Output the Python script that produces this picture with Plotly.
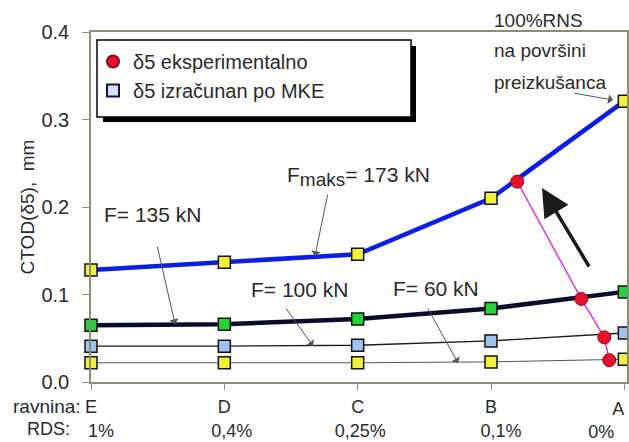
import plotly.graph_objects as go

# ---- data ----
planes = ["E", "D", "C", "B", "A"]
rds = ["1%", "0,4%", "0,25%", "0,1%", "0%"]
x_pos = [0, 1, 2, 3, 4]

ctod_fmaks = [0.128, 0.137, 0.146, 0.210, 0.321]   # Fmaks = 173 kN
ctod_f135 = [0.065, 0.066, 0.072, 0.084, 0.103]    # F = 135 kN
ctod_f100 = [0.041, 0.041, 0.042, 0.047, 0.056]    # F = 100 kN
ctod_f60 = [0.022, 0.022, 0.022, 0.023, 0.026]     # F = 60 kN

exp_x = [3.197, 3.677, 3.850, 3.887]
exp_y = [0.229, 0.095, 0.051, 0.025]

y_ticks = [0.0, 0.1, 0.2, 0.3, 0.4]
y_ticktext = ["0.0", "0.1", "0.2", "0.3", "0.4"]

NB = "\u00a0"
x_ticktext = [
    planes[0] + "<br>" + NB * 4 + rds[0],
    planes[1] + "<br>" + NB * 3 + rds[1],
    planes[2] + "<br>" + NB * 1 + rds[2],
    planes[3] + "<br>" + NB * 4 + rds[3],
    "",
]
# last plane label is right-aligned at the right edge (separate overlay axis)
x_ticktext_last = [planes[4] + "<br>" + rds[4] + NB * 2]

FONT = "Liberation Sans, Arial, sans-serif"
TXT = "#2a2a2a"

# plot-area geometry in pixels
L, R, T, B = 91, 2, 32, 60
PW, PH = 629 - L - R, 442 - T - B
XMAX = 4.02

def xd(px):
    return (px - L) / PW * XMAX

def yd(py):
    return (442 - B - py) / PH * 0.4

def xp(px):
    return (px - L) / PW

def yp(py):
    return (442 - B - py) / PH

fig = go.Figure()

def sq(fill):
    return dict(symbol="square", size=12, color=fill, line=dict(color="#111111", width=1.5))

fig.add_trace(go.Scatter(x=x_pos, y=ctod_f60, mode="lines+markers",
                         line=dict(color="#555555", width=1), marker=sq("#f2f03a"),
                         showlegend=False, cliponaxis=False))
fig.add_trace(go.Scatter(x=x_pos, y=ctod_f100, mode="lines+markers",
                         line=dict(color="#1a1a1a", width=1.3), marker=sq("#9cc4ee"),
                         showlegend=False, cliponaxis=False))
fig.add_trace(go.Scatter(x=x_pos, y=ctod_f135, mode="lines+markers",
                         line=dict(color="#0b0b2e", width=4.5), marker=sq("#22d43a"),
                         showlegend=False, cliponaxis=False))
fig.add_trace(go.Scatter(x=x_pos, y=ctod_fmaks, mode="lines+markers",
                         line=dict(color="#0a1ee6", width=4.5), marker=sq("#f2f03a"),
                         showlegend=False, cliponaxis=False))
fig.add_trace(go.Scatter(x=exp_x, y=exp_y, mode="lines",
                         line=dict(color="#e040d8", width=1.6),
                         showlegend=False, cliponaxis=False))
fig.add_trace(go.Scatter(x=exp_x, y=exp_y, mode="markers",
                         marker=dict(symbol="circle", size=13, color="#e8102a",
                                     line=dict(color="#8a0a1a", width=1)),
                         name="δ5 eksperimentalno", cliponaxis=False))
# legend-only entry for the FEM (MKE) squares
fig.add_trace(go.Scatter(x=[None], y=[None], mode="markers",
                         marker=dict(symbol="square", size=11, color="#d8e4ff",
                                     line=dict(color="#101050", width=3)),
                         name="δ5 izračunan po MKE"))
# empty trace so the overlay axis is drawn
fig.add_trace(go.Scatter(x=[None], y=[None], xaxis="x2", showlegend=False,
                         hoverinfo="skip"))

ann = []
labels = [
    ("F<sub><span style='font-size:19px'>maks</span></sub>= 173 kN", 358, 176),
    ("F= 135 kN", 152, 214),
    ("F= 100 kN", 299, 289),
    ("F= 60 kN", 436, 288),
]
for t, px, py in labels:
    ann.append(dict(x=xd(px), y=yd(py), xref="x", yref="y", text=t, showarrow=False,
                    xanchor="center", yanchor="middle",
                    font=dict(family=FONT, size=21, color=TXT)))
for t, py in [("100%RNS", 20), ("na površini", 51), ("preizkušanca", 82)]:
    ann.append(dict(x=xp(492), y=yp(py), xref="paper", yref="paper", text=t,
                    showarrow=False, xanchor="left", yanchor="middle",
                    font=dict(family=FONT, size=19, color=TXT)))
pointers = [
    ((328, 193), (315, 256)),
    ((157, 245), (175, 324)),
    ((285, 307), (313, 346)),
    ((427, 307), (458, 363)),
    ((573, 93), (613, 100)),
]
for (tx, ty), (hx, hy) in pointers:
    ann.append(dict(x=xd(hx), y=yd(hy), ax=xd(tx), ay=yd(ty), xref="x", yref="y",
                    axref="x", ayref="y", text="", showarrow=True, arrowhead=1,
                    arrowsize=1.6, arrowwidth=1, arrowcolor="#555555", standoff=0))
ann.append(dict(x=xd(542), y=yd(188), ax=xd(590), ay=yd(268), xref="x", yref="y",
                axref="x", ayref="y", text="", showarrow=True, arrowhead=2,
                arrowsize=1.6, arrowwidth=3.5, arrowcolor="#1a1a1a", standoff=0))
ann.append(dict(x=xp(83), y=yp(406), xref="paper", yref="paper", text="ravnina:",
                showarrow=False, xanchor="right", yanchor="middle",
                font=dict(family=FONT, size=19, color=TXT)))
ann.append(dict(x=xp(72), y=yp(429), xref="paper", yref="paper", text="RDS:",
                showarrow=False, xanchor="right", yanchor="middle",
                font=dict(family=FONT, size=18, color=TXT)))

fig.update_layout(
    width=629, height=442,
    margin=dict(l=L, r=R, t=T, b=B, autoexpand=False),
    paper_bgcolor="white", plot_bgcolor="white",
    font=dict(family=FONT, size=20, color=TXT),
    showlegend=True,
    legend=dict(x=xp(93), y=yp(42), xanchor="left", yanchor="top",
                bgcolor="rgba(0,0,0,0)", borderwidth=0,
                font=dict(family=FONT, size=20, color=TXT),
                traceorder="grouped", tracegroupgap=17,
                itemsizing="constant"),
    annotations=ann,
    shapes=[
        # legend shadow
        dict(type="rect", xref="paper", yref="paper",
             x0=xp(103), x1=xp(416), y0=yp(122), y1=yp(46),
             fillcolor="#000000", line=dict(width=0), layer="above"),
        # legend frame
        dict(type="rect", xref="paper", yref="paper",
             x0=xp(97), x1=xp(411), y0=yp(117), y1=yp(40),
             fillcolor="white", line=dict(color="#000000", width=1.5), layer="above"),
    ],
    xaxis2=dict(overlaying="x", side="bottom", anchor="y", range=[0, XMAX],
                tickvals=[x_pos[4]], ticktext=x_ticktext_last,
                ticklabelposition="outside left", ticks="", showline=False,
                showgrid=False, zeroline=False, automargin=False,
                ticklabelstandoff=14, ticklabeloverflow="allow",
                tickfont=dict(family=FONT, size=18, color=TXT)),
)
fig.layout.xaxis.update(range=[0, XMAX], tickvals=x_pos, ticktext=x_ticktext,
                        automargin=False, ticklabeloverflow="allow",
                        showgrid=False, zeroline=False, showline=True, mirror=True,
                        linecolor="#8c8c78", linewidth=1.5,
                        ticks="outside", ticklen=6, tickcolor="#8c8c78",
                        ticklabelstandoff=2,
                        tickfont=dict(family=FONT, size=18, color=TXT))
fig.update_yaxes(range=[0, 0.4], tickvals=y_ticks, ticktext=y_ticktext,
                 automargin=False,
                 showgrid=False, zeroline=False, showline=True, mirror=True,
                 linecolor="#8c8c78", linewidth=1.5,
                 ticks="outside", ticklen=7, tickcolor="#8c8c78",
                 ticklabelstandoff=9,
                 tickfont=dict(family=FONT, size=20, color=TXT),
                 title=dict(text="CTOD(δ5),  mm", standoff=2,
                            font=dict(family=FONT, size=19, color=TXT)))

fig.write_html("out.html",
               config={"displayModeBar": False},
               post_script="document.body.style.margin='0';"
                           "document.body.style.overflow='hidden';")
